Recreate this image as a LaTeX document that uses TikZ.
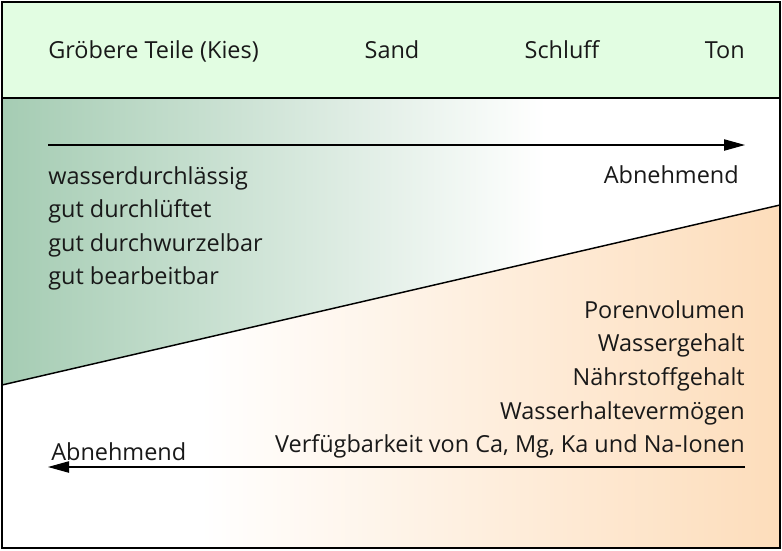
\documentclass[tikz,border=0pt]{standalone}
\usepackage{fontspec}
\setmainfont{Open Sans}
\usetikzlibrary{arrows.meta}
\definecolor{hdr}{HTML}{E2FDE2}
\definecolor{grn}{HTML}{A5CCB3}
\definecolor{org}{HTML}{FDDDBB}
\begin{document}
\begin{tikzpicture}[x=0.75pt,y=-0.75pt,
  txt/.style={inner sep=0pt, font=\fontsize{17.6}{20}\selectfont, text=black!90},
  arr/.style={line width=0.8pt, -{Triangle[length=15.75pt,width=8.5pt]}},
  frame/.style={line width=1.1pt, draw=black}]
\useasboundingbox (0,0) rectangle (782,550);
\fill[white] (2,2) rectangle (780,548);
\fill[hdr] (2,2) rectangle (780,98);
\begin{scope}
  \clip (2,98) -- (780,98) -- (780,205) -- (2,385) -- cycle;
  \shade[left color=grn, right color=white] (2,98) rectangle (545,385);
\end{scope}
\begin{scope}
  \clip (2,385) -- (780,205) -- (780,548) -- (2,548) -- cycle;
  \shade[left color=white, right color=org] (200,205) rectangle (780,548);
\end{scope}
\coordinate (dl) at (2,385);
\coordinate (dr) at (780,205);
\coordinate (hl) at (2,98);
\coordinate (hr) at (780,98);
\draw[frame] (dl) -- (dr);
\draw[frame] (hl) -- (hr);
\draw[frame] (2,2) rectangle (780,548);
% header
\node[txt, anchor=base west] (kies) at (48,58) {Gröbere Teile (Kies)};
\node[txt, anchor=base] (sand) at (392,58) {Sand};
\node[txt, anchor=base] (schluff) at (562,58) {Schluff};
\node[txt, anchor=base east] (ton) at (745,58) {Ton};
% top arrow
\coordinate (t1) at (48,145);
\coordinate (t2) at (745,145);
\draw[arr] (t1) -- (t2);
\node[txt, anchor=base east] (abn1) at (739,183) {Abnehmend};
\node[txt, anchor=base west] (l1) at (48,184) {wasserdurchlässig};
\node[txt, anchor=base west] (l2) at (48,217.5) {gut durchlüftet};
\node[txt, anchor=base west] (l3) at (48,251) {gut durchwurzelbar};
\node[txt, anchor=base west] (l4) at (48,284) {gut bearbeitbar};
% right list
\node[txt, anchor=base east] (r1) at (745,318) {Porenvolumen};
\node[txt, anchor=base east] (r2) at (745,351.5) {Wassergehalt};
\node[txt, anchor=base east] (r3) at (745,385.5) {Nährstoffgehalt};
\node[txt, anchor=base east] (r4) at (745,419) {Wasserhaltevermögen};
\node[txt, anchor=base east] (r5) at (745,452.5) {Verfügbarkeit von Ca, Mg, Ka und Na-Ionen};
% bottom arrow
\coordinate (b1) at (745,467);
\coordinate (b2) at (48,467);
\draw[arr] (b1) -- (b2);
\node[txt, anchor=base west] (abn2) at (51,460) {Abnehmend};
\end{tikzpicture}
\end{document}
